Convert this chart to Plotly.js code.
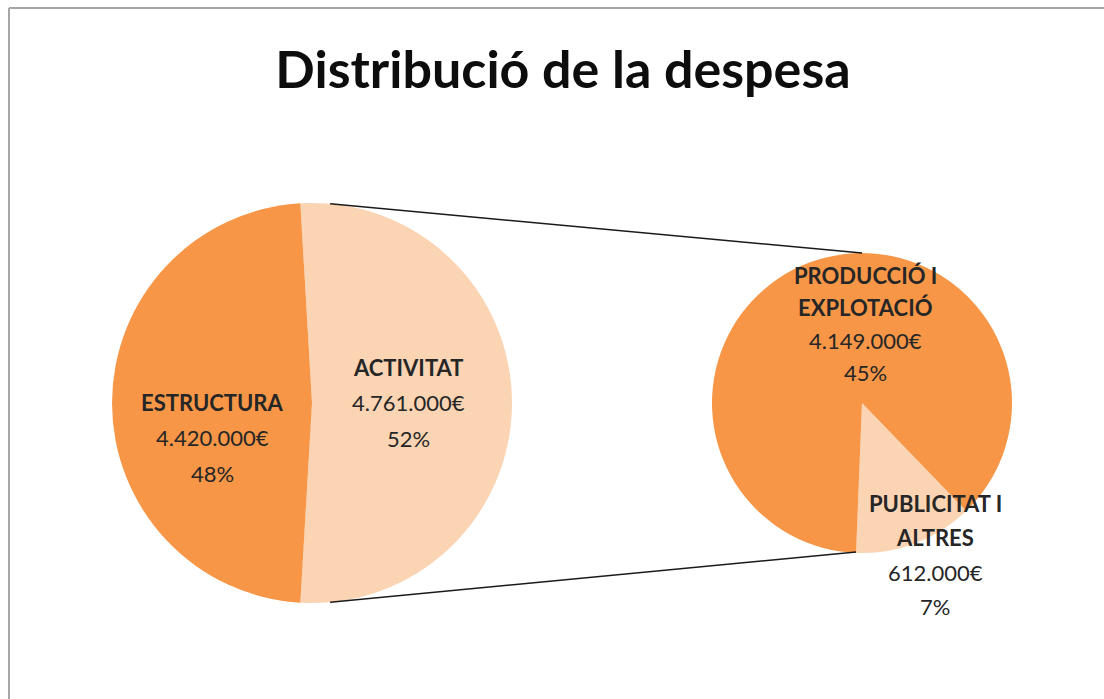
<!DOCTYPE html>
<html>
<head>
<meta charset="utf-8">
<script src="https://cdn.plot.ly/plotly-3.0.1.min.js"></script>
<style>html,body{margin:0;padding:0;background:#fff;}#chart{width:1104px;height:699px;}</style>
</head>
<body>
<div id="chart"></div>
<script>
// ---- data ----
const mainLabels = ["ACTIVITAT", "ESTRUCTURA"];
const mainValues = [4761000, 4420000];
const subLabels = ["PUBLICITAT I|ALTRES", "PRODUCCIÓ I|EXPLOTACIÓ"];
const subValues = [612000, 4149000];
const titleText = "Distribució de la despesa";

// ---- style ----
const W = 1104, H = 699;
const dark = "#F79646", light = "#FBD4B3";
const fontFam = "Lato, 'Noto Sans', sans-serif";
const main = {cx: 312, cy: 403, r: 200};
const sub = {cx: 862, cy: 403, r: 150};

const px = x => x / W;
const py = y => 1 - y / H;

const total = mainValues.reduce((a, b) => a + b, 0);
const actDeg = mainValues[0] / total * 360;
const mainRotation = -(actDeg - 180) / 2;

function fmtEuro(v) {
  return String(v).replace(/\B(?=(\d{3})+(?!\d))/g, ".") + "€";
}
function pct(v) { return Math.round(v / total * 100) + "%"; }

const traces = [
  {
    type: "pie", labels: mainLabels, values: mainValues, sort: false,
    direction: "clockwise", rotation: mainRotation,
    marker: {colors: [light, dark], line: {width: 0}},
    textinfo: "none", hoverinfo: "skip", showlegend: false,
    domain: {x: [px(main.cx - main.r), px(main.cx + main.r)], y: [py(main.cy + main.r), py(main.cy - main.r)]}
  },
  {
    type: "pie", labels: subLabels.map(s => s.replace("|", " ")), values: subValues, sort: false,
    direction: "clockwise", rotation: 136,
    marker: {colors: [light, dark], line: {width: 0}},
    textinfo: "none", hoverinfo: "skip", showlegend: false,
    domain: {x: [px(sub.cx - sub.r), px(sub.cx + sub.r)], y: [py(sub.cy + sub.r), py(sub.cy - sub.r)]}
  }
];

// one annotation per text line so the line spacing can follow the reference
function label(name, value, xPix, yFirst, spacing) {
  const lines = name.split("|").map(s => "<b>" + s + "</b>").concat([fmtEuro(value), pct(value)]);
  return lines.map((t, i) => ({
    xref: "paper", yref: "paper", x: px(xPix), y: py(yFirst + i * spacing),
    xanchor: "center", yanchor: "middle", showarrow: false,
    text: t, font: {family: fontFam, size: 22, color: "#262626"}
  }));
}

const annotations = [].concat(
  label(mainLabels[1], mainValues[1], main.cx - 100, main.cy - 1, 35.5),
  label(mainLabels[0], mainValues[0], main.cx + 96, main.cy - 36, 35.5),
  label(subLabels[1], subValues[1], sub.cx + 3, sub.cy - 128, 32.5),
  label(subLabels[0], subValues[0], sub.cx + 73, sub.cy + 100, 34.5)
);

// connector lines from the main pie edge to top / bottom of the secondary pie
const connAng = 5.2 * Math.PI / 180;
const sx = main.cx + main.r * Math.sin(connAng);
const syTop = main.cy - main.r * Math.cos(connAng);
const syBot = main.cy + main.r * Math.cos(connAng);
const shapes = [
  {type: "line", xref: "paper", yref: "paper", x0: px(sx), y0: py(syTop), x1: px(sub.cx), y1: py(sub.cy - sub.r), line: {color: "#1a1a1a", width: 1.5}},
  {type: "line", xref: "paper", yref: "paper", x0: px(sx), y0: py(syBot), x1: px(sub.cx - 6), y1: py(sub.cy + sub.r - 1), line: {color: "#1a1a1a", width: 1.5}},
  {type: "line", xref: "paper", yref: "paper", x0: px(9), y0: py(8), x1: px(W), y1: py(8), line: {color: "#a6a6a6", width: 2}},
  {type: "line", xref: "paper", yref: "paper", x0: px(9), y0: py(8), x1: px(9), y1: py(H), line: {color: "#a6a6a6", width: 2}}
];

const layout = {
  width: W, height: H,
  margin: {l: 0, r: 0, t: 0, b: 0},
  paper_bgcolor: "#ffffff",
  title: {text: "<b>" + titleText + "</b>", x: px(563), xanchor: "center", y: py(70), yanchor: "middle",
          font: {family: fontFam, size: 52, color: "#0d0d0d"}},
  shapes: shapes,
  annotations: annotations,
  showlegend: false
};

Plotly.newPlot("chart", traces, layout, {displayModeBar: false, staticPlot: true});
</script>
</body>
</html>
